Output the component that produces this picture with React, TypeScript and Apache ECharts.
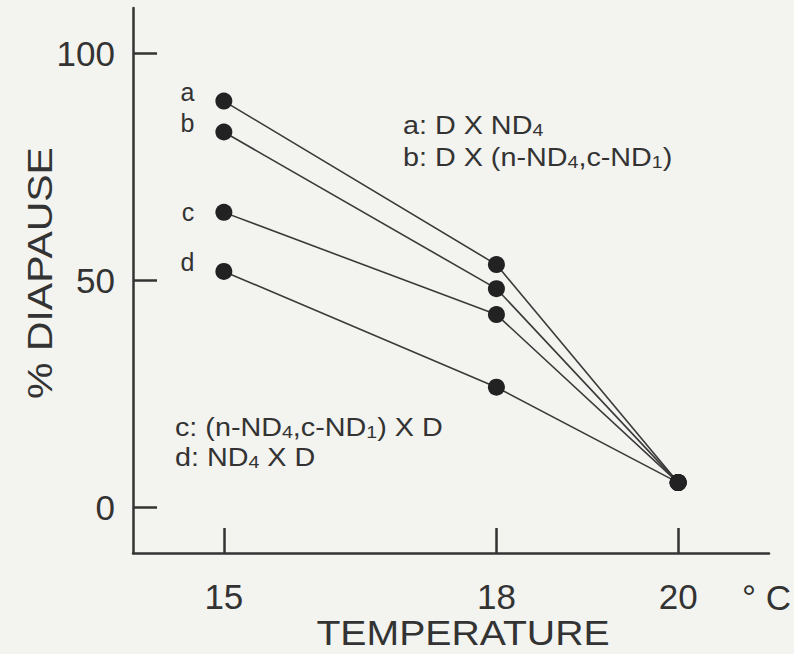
import React, { useEffect, useRef } from "react";
import * as echarts from "echarts";

const temps = [15, 18, 20];
const seriesNames = ["a", "b", "c", "d"];
const valuesA = [89.5, 53.5, 5.5];
const valuesB = [82.7, 48.2, 5.5];
const valuesC = [65, 42.5, 5.5];
const valuesD = [52, 26.5, 5.5];
const allValues = [valuesA, valuesB, valuesC, valuesD];
const labelOffsets = [-9, -9, 0, -9];
const xTicks = [15, 18, 20];
const yTicks = [0, 50, 100];

const INK = "#333333";
const FONT = "'Liberation Sans', Arial, Helvetica, sans-serif";
const WIDE = 1.15;

export default function App() {
  const ref = useRef<HTMLDivElement>(null);
  useEffect(() => {
    if (!ref.current) return;
    const chart = echarts.init(ref.current, null, { renderer: "svg" });
    const rich = {
      m: { fontSize: 25, fontFamily: FONT, fill: INK, color: INK, verticalAlign: "bottom", lineHeight: 30 },
      s: { fontSize: 17, fontFamily: FONT, fill: INK, color: INK, verticalAlign: "bottom", lineHeight: 30 },
    };
    const legendText = (text: string, x: number, y: number) => ({
      type: "text",
      x,
      y,
      scaleX: WIDE,
      style: { text, rich, verticalAlign: "middle", align: "left", fill: INK },
    });
    chart.setOption({
      animation: false,
      backgroundColor: "#f3f3f0",
      textStyle: { fontFamily: FONT, color: INK },
      grid: { left: 133, right: 25, top: 8, bottom: 101 },
      xAxis: {
        type: "value",
        min: 14,
        max: 21,
        axisLine: { onZero: false, lineStyle: { color: INK, width: 2.5 } },
        axisTick: { customValues: xTicks, inside: true, length: 25, lineStyle: { color: INK, width: 2.5 } },
        axisLabel: { customValues: xTicks, fontSize: 35, color: INK, margin: 26, fontFamily: FONT },
        splitLine: { show: false },
      },
      yAxis: {
        type: "value",
        min: -10,
        max: 110,
        axisLine: { onZero: false, lineStyle: { color: INK, width: 2.5 } },
        axisTick: { customValues: yTicks, inside: true, length: 24, lineStyle: { color: INK, width: 2.5 } },
        axisLabel: { customValues: yTicks, fontSize: 35, color: INK, margin: 18, fontFamily: FONT },
        splitLine: { show: false },
      },
      series: allValues.map((vals, si) => ({
        type: "line",
        name: seriesNames[si],
        symbol: "circle",
        symbolSize: 17,
        itemStyle: { color: "#222222" },
        lineStyle: { color: "#3a3a3a", width: 1.6 },
        data: temps.map((t, i) =>
          i === 0
            ? {
                value: [t, vals[i]],
                label: {
                  show: true,
                  formatter: seriesNames[si],
                  position: "left",
                  distance: 21,
                  offset: [0, labelOffsets[si]],
                  fontSize: 25,
                  color: INK,
                  fontFamily: FONT,
                },
              }
            : [t, vals[i]]
        ),
      })),
      graphic: [
        legendText("{m|a: D X ND}{s|4}", 403, 123),
        legendText("{m|b: D X (n-ND}{s|4}{m|,c-ND}{s|1}{m|)}", 403, 155),
        legendText("{m|c: (n-ND}{s|4}{m|,c-ND}{s|1}{m|) X D}", 175, 425),
        legendText("{m|d: ND}{s|4}{m| X D}", 175, 455),
        {
          type: "text",
          x: 791,
          y: 597,
          style: { text: "° C", fontSize: 35, fontFamily: FONT, fill: INK, verticalAlign: "middle", align: "right" },
        },
        {
          type: "text",
          x: 463,
          y: 633,
          scaleX: 1.12,
          style: { text: "TEMPERATURE", fontSize: 35, fontFamily: FONT, fill: INK, verticalAlign: "middle", align: "center" },
        },
        {
          type: "text",
          x: 40,
          y: 273,
          rotation: Math.PI / 2,
          scaleX: 1.17,
          style: { text: "% DIAPAUSE", fontSize: 35, fontFamily: FONT, fill: INK, verticalAlign: "middle", align: "center" },
        },
      ],
    });
    return () => chart.dispose();
  }, []);
  return <div ref={ref} style={{ position: "fixed", left: 0, top: 0, width: 794, height: 654 }} />;
}
